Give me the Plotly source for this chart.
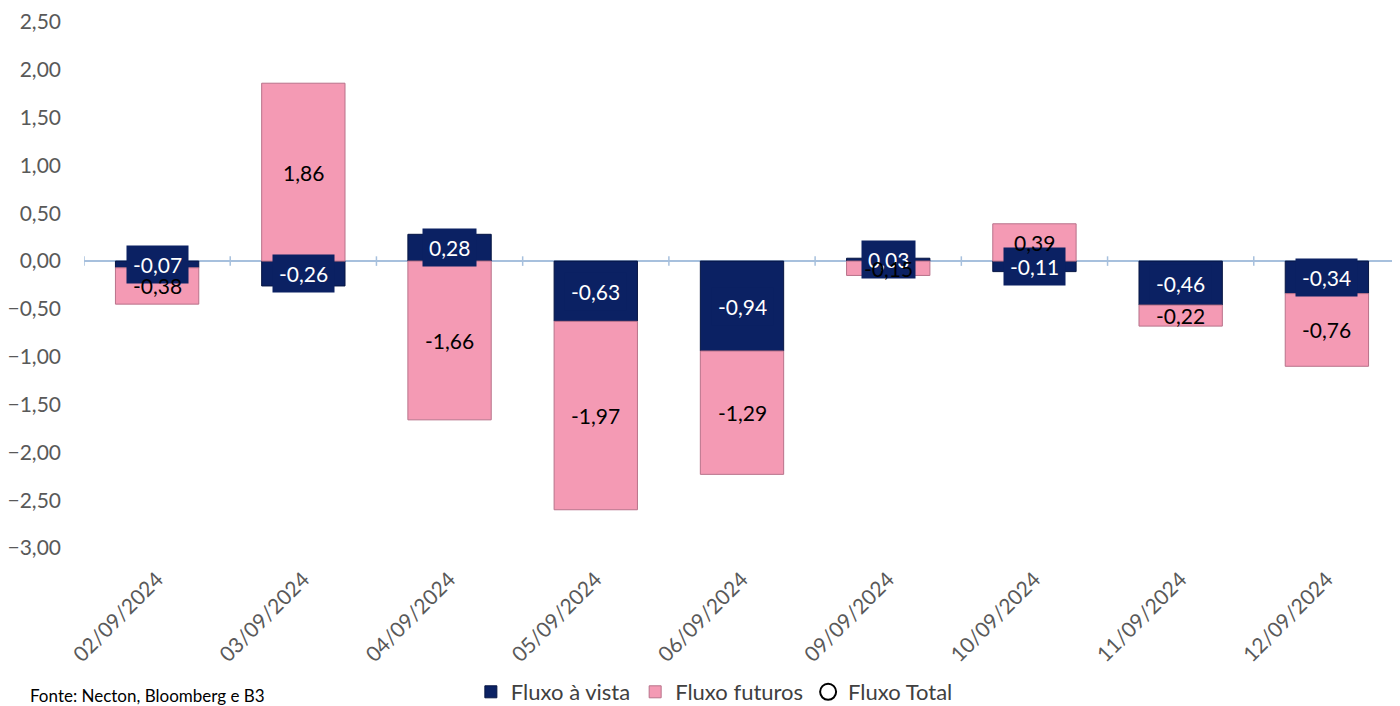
import plotly.graph_objects as go

categories = ["02/09/2024", "03/09/2024", "04/09/2024", "05/09/2024", "06/09/2024",
              "09/09/2024", "10/09/2024", "11/09/2024", "12/09/2024"]
fluxo_vista = [-0.07, -0.26, 0.28, -0.63, -0.94, 0.03, -0.11, -0.46, -0.34]
fluxo_futuros = [-0.38, 1.86, -1.66, -1.97, -1.29, -0.15, 0.39, -0.22, -0.76]
y_ticks = [2.5, 2.0, 1.5, 1.0, 0.5, 0.0, -0.5, -1.0, -1.5, -2.0, -2.5, -3.0]

NAVY = "#0B2163"
PINK = "#F49AB4"
FONT = "Lato"

def fmt(v):
    return f"{v:.2f}".replace(".", ",")

fig = go.Figure()
fig.add_trace(go.Bar(x=categories, y=fluxo_vista, name="Fluxo à vista",
                     marker=dict(color=NAVY, line=dict(color="#061543", width=1))))
fig.add_trace(go.Bar(x=categories, y=fluxo_futuros, name="Fluxo futuros",
                     marker=dict(color=PINK, line=dict(color="#B8728A", width=1))))
fig.add_trace(go.Scatter(x=[None], y=[None], mode="markers", name="Fluxo Total",
                         marker=dict(symbol="circle-open", color="black", size=16,
                                     line=dict(width=2))))

annotations = []
pink_ann = []
for i, (c, a, b) in enumerate(zip(categories, fluxo_vista, fluxo_futuros)):
    annotations.append(dict(x=c, y=a / 2, text=fmt(a), showarrow=False, xref="x", yref="y",
                            font=dict(color="white", size=21, family=FONT),
                            bgcolor=NAVY, borderpad=6))
    if (a >= 0) == (b >= 0):
        yc = a + b / 2
    else:
        yc = b / 2
    pink_ann.append(dict(x=c, y=yc, text=fmt(b), showarrow=False, xref="x", yref="y",
                         font=dict(color="black", size=21, family=FONT)))

annotations += pink_ann
annotations.append(dict(x=(20 - 76) / 1316, y=-147 / 526, xref="paper", yref="paper",
                        xanchor="left", yanchor="middle", showarrow=False,
                        text="Fonte: Necton, Bloomberg e B3",
                        font=dict(size=17, color="black", family=FONT)))

shapes = [dict(type="line", xref="paper", yref="y", x0=0, x1=1, y0=0, y1=0,
               line=dict(color="#A7C0DD", width=2), layer="below")]
for i in range(len(categories) + 1):
    shapes.append(dict(type="line", xref="x", yref="y", x0=i - 0.5, x1=i - 0.5,
                       y0=-0.05, y1=0.05, line=dict(color="#A7C0DD", width=1.5), layer="below"))

fig.update_layout(
    barmode="relative",
    bargap=0.43,
    width=1392, height=698,
    margin=dict(l=76, r=0, t=14, b=158, autoexpand=False),
    paper_bgcolor="white", plot_bgcolor="white",
    separators=",.",
    font=dict(family=FONT, size=20, color="#595959"),
    showlegend=True,
    legend=dict(orientation="h", x=0.479, xanchor="center", y=-144 / 526, yanchor="middle",
                font=dict(size=22, color="#404040", family=FONT), itemwidth=30,
                traceorder="normal"),
    xaxis=dict(tickangle=-45, showgrid=False, zeroline=False, showline=False,
               automargin=False, ticklabelstandoff=14, ticklabeloverflow="allow",
               tickfont=dict(size=21, color="#595959"), range=[-0.5, len(categories) - 0.5]),
    yaxis=dict(range=[-3.0, 2.5], tickvals=y_ticks, tickformat=".2f", showgrid=False,
               zeroline=False, showline=False, ticklabelstandoff=22, automargin=False,
               ticklabeloverflow="allow",
               tickfont=dict(size=21, color="#595959")),
    annotations=annotations,
    shapes=shapes,
)

fig.write_html("out.html")
